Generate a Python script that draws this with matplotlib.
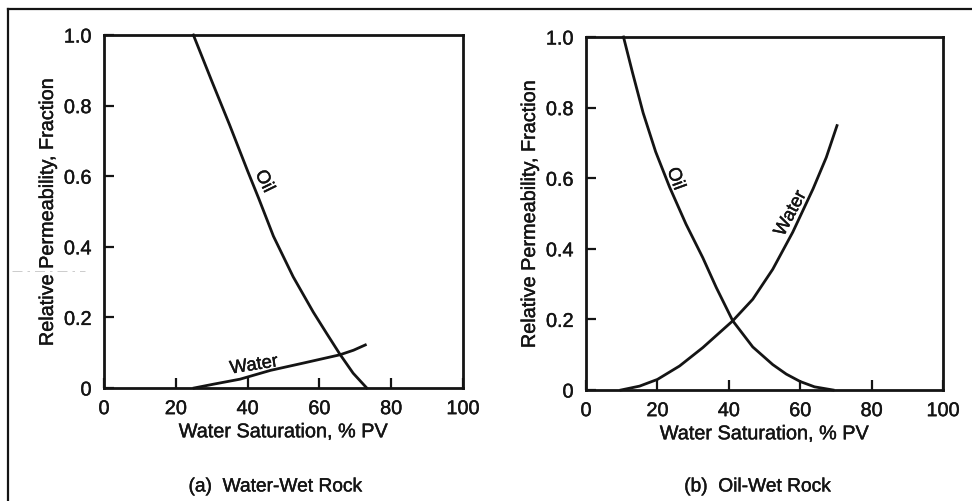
import matplotlib
matplotlib.use("Agg")
import matplotlib.pyplot as plt
import matplotlib.patheffects as pe
from matplotlib.lines import Line2D

plt.rcParams['font.family'] = ['Liberation Sans', 'DejaVu Sans']

# (a) water-wet rock
ww_oil_sw = [24.9, 30.0, 35.0, 40.0, 43.1, 47.2, 52.7, 58.3, 62.0, 65.7, 69.4, 73.2]
ww_oil_kr = [1.00, 0.87, 0.745, 0.615, 0.537, 0.43, 0.315, 0.215, 0.155, 0.096, 0.042, 0.0]
ww_wat_sw = [25.1, 30.6, 37.9, 46.4, 55.7, 65.7, 69.5, 72.8]
ww_wat_kr = [0.0, 0.011, 0.025, 0.050, 0.071, 0.094, 0.107, 0.122]

# (b) oil-wet rock
ow_oil_sw = [10.5, 13.0, 16.0, 19.5, 23.4, 28.0, 32.7, 36.5, 41.1, 46.7, 52.3, 56.1, 60.0, 64.0, 69.2]
ow_oil_kr = [1.00, 0.90, 0.785, 0.675, 0.575, 0.47, 0.375, 0.29, 0.196, 0.122, 0.072, 0.045, 0.024, 0.009, 0.0]
ow_wat_sw = [9.8, 15.0, 20.0, 26.2, 32.7, 41.1, 46.7, 52.3, 57.9, 63.6, 67.3, 70.3]
ow_wat_kr = [0.0, 0.011, 0.030, 0.068, 0.120, 0.196, 0.257, 0.342, 0.447, 0.570, 0.659, 0.749]

x_ticks = [0, 20, 40, 60, 80, 100]
y_ticks = [0, 0.2, 0.4, 0.6, 0.8, 1.0]
y_ticklabels = ['0', '0.2', '0.4', '0.6', '0.8', '1.0']

ink = '#141414'
fs = 14.3
heavy = [pe.withStroke(linewidth=0.3, foreground=ink)]

fig = plt.figure(figsize=(9.72, 5.02), dpi=100)
fig.patch.set_facecolor('white')

ax_a = fig.add_axes([0.107, 0.2251, 0.3693, 0.7032])
ax_b = fig.add_axes([0.6029, 0.2211, 0.3673, 0.7032])


def setup(ax):
    ax.set_xlim(0, 100)
    ax.set_ylim(0, 1.0)
    ax.set_xticks(x_ticks)
    ax.set_yticks(y_ticks)
    ax.set_yticklabels(y_ticklabels)
    ax.tick_params(direction='in', length=7, width=1.6, colors=ink,
                   labelsize=fs, top=False, right=False)
    ax.tick_params(axis='y', pad=9)
    ax.tick_params(axis='x', pad=8)
    for s in ax.spines.values():
        s.set_linewidth(2.0)
        s.set_color(ink)
    ax.set_xlabel('Water Saturation, % PV', fontsize=fs, color=ink, labelpad=3)
    ax.set_ylabel('Relative Permeability, Fraction', fontsize=fs, color=ink, labelpad=5)
    for t in ax.get_xticklabels() + ax.get_yticklabels():
        t.set_path_effects(heavy)
    ax.xaxis.label.set_path_effects(heavy)
    ax.yaxis.label.set_path_effects(heavy)


setup(ax_a)
setup(ax_b)

ax_a.plot(ww_oil_sw, ww_oil_kr, color=ink, lw=2.0, clip_on=False)
ax_a.plot(ww_wat_sw, ww_wat_kr, color=ink, lw=2.0, clip_on=False)
ax_a.text(44.6, 0.585, 'Oil', rotation=-64, fontsize=fs - 1, color=ink,
          ha='center', va='center', rotation_mode='anchor', path_effects=heavy)
ax_a.text(41.8, 0.064, 'Water', rotation=9, fontsize=fs - 1, color=ink,
          ha='center', va='center', rotation_mode='anchor', path_effects=heavy)

ax_b.plot(ow_oil_sw, ow_oil_kr, color=ink, lw=2.0, clip_on=False)
ax_b.plot(ow_wat_sw, ow_wat_kr, color=ink, lw=2.0, clip_on=False)
ax_b.text(25.0, 0.598, 'Oil', rotation=-70, fontsize=fs - 1, color=ink,
          ha='center', va='center', rotation_mode='anchor', path_effects=heavy)
ax_b.text(57.4, 0.50, 'Water', rotation=62, fontsize=fs - 1, color=ink,
          ha='center', va='center', rotation_mode='anchor', path_effects=heavy)

fig.text(0.283, 0.028, '(a)  Water-Wet Rock', fontsize=fs - 0.5, color=ink,
         ha='center', va='center', path_effects=heavy)
fig.text(0.779, 0.028, '(b)  Oil-Wet Rock', fontsize=fs - 0.5, color=ink,
         ha='center', va='center', path_effects=heavy)

# page frame (top and left edges only)
fig.add_artist(Line2D([8 / 972, 1.0], [1 - 9.5 / 502, 1 - 9.5 / 502],
                      transform=fig.transFigure, color=ink, lw=1.6))
fig.add_artist(Line2D([8 / 972, 8 / 972], [0.0, 1 - 9.5 / 502],
                      transform=fig.transFigure, color=ink, lw=1.6))
# faint smudge left of the first axis label
fig.add_artist(Line2D([12 / 972, 85 / 972], [1 - 272 / 502, 1 - 272 / 502],
                      transform=fig.transFigure, color='#c4c4c4', lw=0.6,
                      ls=(0, (12, 6, 3, 6))))

fig.savefig('out.png', dpi=100, facecolor='white')
